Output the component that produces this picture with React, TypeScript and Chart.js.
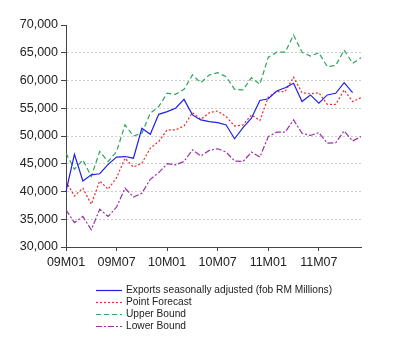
import React, { useEffect, useRef } from "react";
import { Chart, registerables } from "chart.js";

Chart.register(...registerables);

const months: string[] = [
  "09M01", "09M02", "09M03", "09M04", "09M05", "09M06", "09M07", "09M08", "09M09", "09M10", "09M11", "09M12",
  "10M01", "10M02", "10M03", "10M04", "10M05", "10M06", "10M07", "10M08", "10M09", "10M10", "10M11", "10M12",
  "11M01", "11M02", "11M03", "11M04", "11M05", "11M06", "11M07", "11M08", "11M09", "11M10", "11M11", "11M12",
];

const exportsSA: (number | null)[] = [
  40000, 46700, 41900, 43000, 43200, 44900, 46200, 46300, 46000, 51400, 50300, 53900,
  54400, 55000, 56600, 53800, 52900, 52600, 52400, 52000, 49500, 51500, 53200, 56400,
  56700, 58100, 58700, 59500, 56200, 57400, 55900, 57400, 57700, 59600, 57800, null,
];

const pointForecast: number[] = [
  41800, 39200, 40600, 37700, 41900, 40400, 42500, 46000, 44400, 45100, 47800, 49000,
  51100, 51100, 51800, 54200, 53000, 54200, 54500, 53500, 51800, 52000, 53800, 52800,
  57000, 58000, 58000, 60600, 57800, 57600, 57800, 55700, 55700, 58300, 56200, 56900,
];

const upperBound: number[] = [
  46900, 44000, 45700, 42700, 47200, 45400, 47200, 52000, 50000, 50500, 54100, 55300,
  57700, 57500, 58400, 61000, 59600, 61000, 61400, 60700, 58400, 58300, 60500, 59300,
  64200, 65100, 65100, 68200, 65100, 64400, 65000, 62500, 62700, 65500, 63100, 64100,
];

const lowerBound: number[] = [
  36700, 34400, 35500, 33100, 36800, 35500, 37200, 40600, 39000, 39700, 42200, 43400,
  45000, 44800, 45400, 47500, 46400, 47400, 47700, 47100, 45500, 45400, 47100, 46200,
  49900, 50700, 50700, 52900, 50500, 50100, 50600, 48700, 48800, 50900, 49100, 49900,
];

const seriesNames: string[] = [
  "Exports seasonally adjusted (fob RM Millions)",
  "Point Forecast",
  "Upper Bound",
  "Lower Bound",
];

const yMin = 30000;
const yMax = 70000;
const yStep = 5000;

const FONT = "'Liberation Sans', Arial, sans-serif";

const legendPlugin = {
  id: "customLegend",
  afterDraw(chart: any) {
    const ctx = chart.ctx;
    ctx.save();
    const x0 = 96;
    const x1 = 122;
    const tx = 126;
    const rows = [290, 302, 314, 326];
    chart.data.datasets.forEach((ds: any, i: number) => {
      const y = rows[i] + 0.5;
      ctx.beginPath();
      ctx.strokeStyle = ds.borderColor;
      ctx.lineWidth = 1.2;
      ctx.setLineDash(ds.borderDash || []);
      ctx.moveTo(x0, y);
      ctx.lineTo(x1, y);
      ctx.stroke();
      ctx.setLineDash([]);
      ctx.fillStyle = "#222";
      ctx.font = `10.2px ${FONT}`;
      ctx.textBaseline = "middle";
      ctx.textAlign = "left";
      ctx.fillText(ds.label, tx, y);
    });
    ctx.restore();
  },
};

export default function App() {
  const ref = useRef<HTMLCanvasElement | null>(null);

  useEffect(() => {
    if (!ref.current) return;
    const chart = new Chart(ref.current, {
      type: "line",
      data: {
        labels: months,
        datasets: [
          {
            label: seriesNames[0],
            data: exportsSA,
            borderColor: "#2020ee",
            borderWidth: 1.2,
            pointRadius: 0,
            tension: 0,
            fill: false,
          },
          {
            label: seriesNames[1],
            data: pointForecast,
            borderColor: "#ee2a2a",
            borderWidth: 1.2,
            borderDash: [2, 2],
            pointRadius: 0,
            tension: 0,
            fill: false,
          },
          {
            label: seriesNames[2],
            data: upperBound,
            borderColor: "#2ca55a",
            borderWidth: 1.2,
            borderDash: [5, 3],
            pointRadius: 0,
            tension: 0,
            fill: false,
          },
          {
            label: seriesNames[3],
            data: lowerBound,
            borderColor: "#9a30a8",
            borderWidth: 1.2,
            borderDash: [6, 2, 2, 2],
            pointRadius: 0,
            tension: 0,
            fill: false,
          },
        ],
      },
      options: {
        responsive: false,
        animation: false,
        events: [],
        layout: { padding: { left: 0, top: 25, right: 39, bottom: 79 } },
        plugins: {
          legend: { display: false },
          tooltip: { enabled: false },
        },
        scales: {
          x: {
            type: "category",
            offset: false,
            afterFit: (s: any) => {
              s.height = 30;
            },
            grid: {
              drawOnChartArea: false,
              drawTicks: true,
              tickLength: 4,
              tickColor: (c: any) => (c.index % 6 === 0 ? "#444" : "rgba(0,0,0,0)"),
            },
            border: { display: true, color: "#444", width: 1 },
            ticks: {
              autoSkip: false,
              maxRotation: 0,
              minRotation: 0,
              padding: 4,
              color: "#222",
              font: { family: FONT, size: 12.5 },
              callback: (_v: any, i: number) => (i % 6 === 0 ? months[i] : ""),
            },
          },
          y: {
            min: yMin,
            max: yMax,
            afterFit: (s: any) => {
              s.width = 66;
            },
            grid: {
              drawOnChartArea: true,
              drawTicks: true,
              tickLength: 5,
              color: (c: any) =>
                c.tick && (c.tick.value === yMin || c.tick.value === yMax) ? "rgba(0,0,0,0)" : "#cfcfcf",
              tickColor: "#444",
              lineWidth: 1,
            },
            border: { display: true, color: "#444", width: 1, dash: [2, 2] },
            ticks: {
              stepSize: yStep,
              padding: 3,
              color: "#222",
              font: { family: FONT, size: 12.5 },
            },
          },
        },
      },
      plugins: [legendPlugin],
    });
    return () => chart.destroy();
  }, []);

  return (
    <div style={{ position: "fixed", left: 0, top: 0, width: 400, height: 356, background: "#fff" }}>
      <canvas ref={ref} width={400} height={356} style={{ display: "block", width: 400, height: 356 }} />
    </div>
  );
}
